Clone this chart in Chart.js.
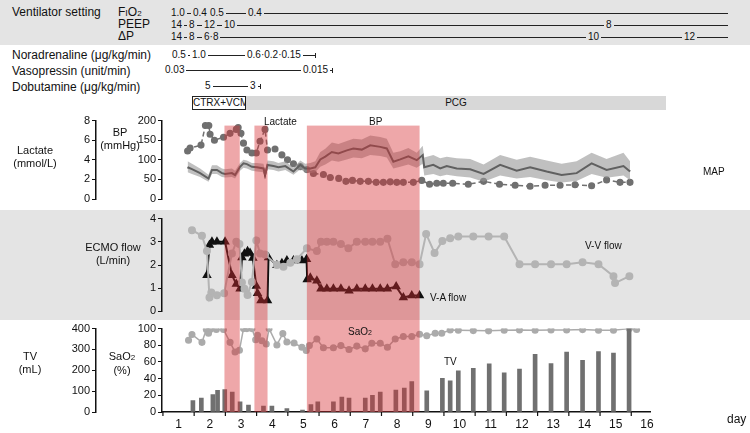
<!DOCTYPE html>
<html>
<head>
<meta charset="utf-8">
<script src="https://cdn.jsdelivr.net/npm/chart.js@4/dist/chart.umd.min.js"></script>
<style>
body { margin:0; width:750px; height:433px; position:relative; background:#fff; font-family:"Liberation Sans", Arial, sans-serif; color:#111; overflow:hidden; }
.a { position:absolute; font-size:10px; white-space:nowrap; line-height:12px; }
.t { position:absolute; font-size:12px; white-space:nowrap; }
.c { position:absolute; font-size:11px; text-align:center; line-height:13px; }
.ln { position:absolute; height:1px; background:#222; }
.tk { position:absolute; width:1px; height:5px; background:#222; }
canvas { position:absolute; left:0; }
</style>
</head>
<body>
<div style="position:absolute;left:0;top:0;width:750px;height:45px;background:#e4e4e4"></div>
<div class="t" style="left:12px;top:5px">Ventilator setting</div>
<div class="t" style="left:118px;top:5px">F<span style="font-size:9px">I</span>O<span style="font-size:8px">2</span></div>
<div class="t" style="left:118px;top:17px">PEEP</div>
<div class="t" style="left:118px;top:29px">ΔP</div>
<div class="t" style="left:12px;top:48px">Noradrenaline (μg/kg/min)</div>
<div class="t" style="left:12px;top:64px">Vasopressin (unit/min)</div>
<div class="t" style="left:12px;top:80px">Dobutamine (μg/kg/min)</div>
<div id="rows"></div>
<div style="position:absolute;left:192px;top:96px;width:52px;height:12px;border:1px solid #222;font-size:10px;text-align:center;line-height:12px">CTRX+VCM</div>
<div style="position:absolute;left:246px;top:96px;width:420px;height:14px;background:#d8d8d8;font-size:10px;text-align:center;line-height:14px">PCG</div>

<canvas id="bp" width="750" height="98" style="top:112px"></canvas>
<canvas id="ecmo" width="750" height="110" style="top:210px;background:#e4e4e4"></canvas>
<canvas id="tv" width="750" height="113" style="top:320px"></canvas>

<div class="c" style="left:5px;top:144px;width:60px">Lactate<br>(mmol/L)</div>
<div class="c" style="left:100px;top:126px;width:40px">BP<br>(mmHg)</div>
<div class="c" style="left:78px;top:241px;width:70px">ECMO flow<br>(L/min)</div>
<div class="c" style="left:10px;top:350px;width:40px">TV<br>(mL)</div>
<div class="c" style="left:102px;top:350px;width:40px">SaO<span style="font-size:8px">2</span><br>(%)</div>
<div class="a" style="left:264px;top:116px">Lactate</div>
<div class="a" style="left:369px;top:116px">BP</div>
<div class="a" style="left:703px;top:166px">MAP</div>
<div class="a" style="left:585px;top:240px">V-V flow</div>
<div class="a" style="left:430px;top:292px">V-A flow</div>
<div class="a" style="left:348px;top:326px">SaO<span style="font-size:7px">2</span></div>
<div class="a" style="left:444px;top:356px">TV</div>
<div class="t" style="left:727px;top:412px">day</div>

<script>
const bands = [[2.47, 2.96], [3.43, 3.85], [5.11, 8.72]];

const lactateDays = [1.29,1.37,1.72,1.86,1.97,2.01,2.15,2.44,2.65,2.85,2.91,3.00,3.08,3.19,3.35,3.49,3.61,3.77,3.85,4.09,4.31,4.49,4.68,4.90,5.11,5.32,5.64,5.86,6.13,6.36,6.57,6.82,7.08,7.33,7.56,7.78,7.99,8.20,8.52,8.79,9.04,9.27,9.48,9.78,10.28,10.77,11.28,11.78,12.26,12.74,13.22,13.70,14.23,14.71,15.14,15.46];
const lactate = [4.9,5.2,5.5,7.5,7.5,6.6,6.0,6.3,6.7,7.1,7.3,6.7,5.7,5.0,4.7,4.7,5.9,7.1,5.0,5.1,4.5,4.0,3.6,3.3,3.0,2.6,2.5,2.2,2.1,1.8,1.9,1.8,1.8,1.7,1.7,1.75,1.7,1.7,1.7,1.9,1.5,1.6,1.6,1.6,1.5,1.8,1.5,1.4,1.3,1.4,1.4,1.45,1.35,1.95,1.7,1.7];

const mapDays = [1.29,1.43,1.69,1.96,2.07,2.23,2.39,2.49,2.71,2.81,2.97,3.08,3.19,3.35,3.51,3.72,3.77,3.85,4.04,4.20,4.42,4.68,4.90,5.06,5.22,5.38,5.54,5.70,5.91,6.12,6.39,6.60,6.87,7.14,7.46,7.67,7.88,8.10,8.36,8.63,8.82,8.87,9.16,9.38,9.59,9.91,10.34,10.77,11.30,11.83,12.26,12.79,13.27,13.75,14.23,14.71,15.25,15.46];
const map = [81,76,66,52,74,74,66,64,66,61,82,91,89,82,81,78,61,87,84,81,84,70,87,78,78,81,101,108,120,116,124,129,126,137,133,129,95,101,109,99,112,81,87,78,84,78,76,64,87,72,81,70,61,66,91,74,84,70];
const mapLow = [68,64,56,44,64,64,56,55,56,52,72,80,78,72,70,68,52,76,74,70,74,62,76,68,66,68,82,88,98,95,101,106,104,112,110,106,78,82,88,80,90,60,64,58,62,58,55,44,60,52,56,48,42,46,64,54,60,48];
const mapHigh = [96,90,78,62,86,86,78,76,78,72,92,100,98,92,92,90,72,98,96,92,96,80,98,90,92,96,120,128,144,140,148,154,152,162,158,154,118,122,130,118,136,106,112,104,108,104,102,88,112,100,108,98,90,96,118,102,118,96];

const vvDays = [1.43,1.75,1.91,1.99,2.05,2.23,2.46,2.71,2.85,2.95,3.03,3.11,3.21,3.35,3.49,3.61,3.77,4.15,4.36,4.58,4.79,5.11,5.43,5.56,5.75,5.96,6.20,6.44,6.71,6.98,7.21,7.46,7.69,7.94,8.20,8.47,8.72,8.93,9.20,9.45,9.70,9.96,10.44,10.93,11.43,11.92,12.42,12.93,13.43,13.94,14.45,14.93,14.98,15.44];
const vvFlow = [3.5,3.26,2.6,0.6,0.82,0.7,0.78,2.5,3.0,2.9,1.25,0.98,0.71,1.27,3.06,2.5,2.45,2.0,1.92,2.1,2.25,2.72,2.6,3.0,3.0,3.0,2.9,2.72,3.0,3.0,3.0,3.0,3.13,2.03,2.12,2.12,2.03,3.34,2.52,3.03,3.15,3.23,3.23,3.23,3.23,2.03,2.03,2.03,2.03,2.12,2.03,1.52,1.22,1.52];

const vaDays = [1.91,1.99,2.07,2.23,2.49,2.71,2.85,2.97,3.03,3.11,3.21,3.29,3.38,3.49,3.53,3.64,3.85,3.88,4.15,4.31,4.47,4.68,4.95,5.10,5.12,5.22,5.43,5.56,5.75,5.96,6.20,6.46,6.71,6.98,7.21,7.46,7.69,7.97,8.20,8.47,8.72];
const vaFlow = [1.56,2.86,3.0,3.0,3.0,1.56,1.18,0.98,2.32,2.48,2.59,2.52,2.3,1.09,0.78,0.47,0.47,2.32,1.99,2.08,2.19,2.19,2.19,2.25,1.38,1.45,1.32,0.98,0.98,0.98,0.98,0.89,0.98,0.98,0.98,0.98,0.98,1.07,0.6,0.68,0.68];

const saDays = [1.32,1.43,1.75,1.89,1.96,2.01,2.21,2.44,2.65,2.81,2.95,3.08,3.19,3.35,3.47,3.53,3.67,3.81,3.90,4.15,4.34,4.47,4.70,4.95,5.09,5.19,5.43,5.64,5.96,6.20,6.46,6.71,6.98,7.19,7.46,7.69,7.94,8.20,8.47,8.72,8.95,9.22,9.43,9.70,9.96,10.44,10.93,11.43,11.92,12.42,12.93,13.43,13.94,14.45,14.93,15.44,15.67];
const sao2 = [86,93,83.5,99,94.5,99,99,99,83.5,72,74,100,100,100,86.7,92,85.5,81.6,100,80.4,94,84,82.7,77.6,73.7,79.6,87.5,77,77,79.6,75,79,75.7,82.4,82.4,77.6,87.5,90.6,90.6,93.3,91.4,94.5,94.5,98.4,98,97.6,97.3,98,98.4,98,98.4,98.4,98.8,98,98,100,99];

const tvDays = [1.46,1.73,2.10,2.25,2.48,2.72,2.97,3.24,3.72,3.99,4.47,4.97,5.24,5.46,5.96,6.23,6.46,6.98,7.21,7.46,7.96,8.23,8.47,8.95,9.45,9.70,9.96,10.44,10.95,11.43,11.92,12.42,12.93,13.43,13.94,14.45,14.93,15.43];
const tv = [55,67,83,104,107,96,49,33,28,28,17,9,36,49,49,72,67,67,80,96,105,115,146,102,162,149,198,209,231,188,206,276,232,287,248,290,282,400];

const dayLabels = [1,2,3,4,5,6,7,8,9,10,11,12,13,14,15,16];

// treatment rows: [left px, label], line ends at `end` (null = short end tick)
const settingRows = [
  { y: 13, items: [[171, '1.0'], [193, '0.4'], [210, '0.5'], [248, '0.4']], end: 728 },
  { y: 25, items: [[171, '14'], [189, '8'], [204, '12'], [224, '10'], [606, '8']], end: 728 },
  { y: 37, items: [[171, '14'], [189, '8'], [204, '6·8'], [588, '10'], [684, '12']], end: 728 },
  { y: 55, items: [[172, '0.5'], [192, '1.0'], [247, '0.6·0.2·0.15']], end: 315, tick: true },
  { y: 70, items: [[165, '0.03'], [303, '0.015']], end: null, tick: true },
  { y: 86, items: [[205, '5'], [250, '3']], end: null, tick: true }
];

const rowsEl = document.getElementById('rows');
function addEl(cls, css, text) {
  const d = document.createElement('div');
  d.className = cls;
  Object.assign(d.style, css);
  if (text) d.textContent = text;
  rowsEl.appendChild(d);
  return d;
}
settingRows.forEach(r => {
  let prevEnd = null;
  r.items.forEach(([x, label]) => {
    const d = addEl('a', { left: x + 'px', top: (r.y - 6) + 'px' }, label);
    if (prevEnd !== null) addEl('ln', { left: (prevEnd + 2) + 'px', top: r.y + 'px', width: (x - prevEnd - 4) + 'px' });
    prevEnd = x + d.offsetWidth;
  });
  const endX = r.end === null ? prevEnd + 4 : r.end;
  addEl('ln', { left: (prevEnd + 2) + 'px', top: r.y + 'px', width: (endX - prevEnd - 2) + 'px' });
  if (r.tick) addEl('tk', { left: endX + 'px', top: (r.y - 2) + 'px' });
});

const pts = (xs, ys) => xs.map((x, i) => ({ x: x, y: ys[i] }));
const font = { family: 'Liberation Sans', size: 11 };
Chart.defaults.color = '#111';
Chart.defaults.font.family = 'Liberation Sans';

const bandPlugin = {
  id: 'bands',
  afterDatasetsDraw(chart, args, opts) {
    const c = chart.ctx, xs = chart.scales.x, a = chart.chartArea;
    const top = opts.top === 'area' ? a.top + 5 : 0;
    const bottom = opts.bottom === 'area' ? a.bottom : chart.height;
    c.save();
    c.fillStyle = 'rgba(215,45,50,0.42)';
    bands.forEach(b => {
      const x1 = xs.getPixelForValue(b[0]), x2 = xs.getPixelForValue(b[1]);
      c.fillRect(x1, top, x2 - x1, bottom - top);
    });
    // half-day tick marks under the day axis
    if (xs.options.display) {
      c.strokeStyle = '#111';
      c.lineWidth = 1.2;
      dayLabels.forEach(d => {
        const x = xs.getPixelForValue(d - 0.5);
        c.beginPath(); c.moveTo(x, a.bottom); c.lineTo(x, a.bottom + 4); c.stroke();
      });
    }
    c.restore();
  }
};

function xScale(show) {
  return {
    type: 'linear', min: 0.47, max: 16.1, display: show, offset: false,
    afterBuildTicks: s => { s.ticks = dayLabels.map(v => ({ value: v })); },
    afterFit: s => { s.height = show ? 21 : 0; },
    ticks: { font: { size: 12 }, autoSkip: false, maxRotation: 0, padding: 5 },
    grid: { drawOnChartArea: false, drawTicks: false, offset: false },
    border: { color: '#111', width: 1.5 }
  };
}
function yScale(min, max, step, width) {
  return {
    position: 'left', min: min, max: max,
    afterFit: s => { s.width = width; },
    ticks: { stepSize: step, font: font, padding: 2 },
    grid: { drawOnChartArea: false, tickLength: 4, tickColor: '#111' },
    border: { color: '#111', width: 1.5 }
  };
}
const base = (padTop, padBottom) => ({
  responsive: false, animation: false,
  layout: { padding: { top: padTop, bottom: padBottom, right: 100, left: 0 } },
  plugins: { legend: { display: false }, tooltip: { enabled: false } }
});

const bpOpts = base(8, 11);
bpOpts.scales = { y: yScale(0, 200, 50, 66), yl: yScale(0, 8, 2, 96), x: xScale(false) };
bpOpts.plugins.bands = { top: 'area', bottom: 'canvas' };
new Chart(document.getElementById('bp'), {
  type: 'line',
  data: { datasets: [
    { data: pts(mapDays, mapHigh), yAxisID: 'y', borderWidth: 0, pointRadius: 0, fill: '+1', backgroundColor: 'rgba(150,150,150,0.6)' },
    { data: pts(mapDays, mapLow), yAxisID: 'y', borderWidth: 0, pointRadius: 0, fill: false },
    { data: pts(mapDays, map), yAxisID: 'y', borderColor: '#111', borderWidth: 2, pointRadius: 0 },
    { data: pts(lactateDays, lactate), yAxisID: 'yl', borderColor: '#707070', backgroundColor: '#707070', borderWidth: 1.5, borderDash: [5, 3], pointRadius: 2.8 }
  ] },
  options: bpOpts,
  plugins: [bandPlugin]
});

const ecOpts = base(5, 6);
ecOpts.scales = { y: yScale(0, 4, 1, 162), x: xScale(false) };
ecOpts.plugins.bands = { top: 'canvas', bottom: 'canvas' };
new Chart(document.getElementById('ecmo'), {
  type: 'line',
  data: { datasets: [
    { data: pts(vvDays, vvFlow), borderColor: '#b4b4b4', backgroundColor: '#b4b4b4', borderWidth: 2, pointRadius: 3 },
    { data: pts(vaDays, vaFlow), borderColor: '#111', backgroundColor: '#111', borderWidth: 2, pointStyle: 'triangle', pointRadius: 3.5 }
  ] },
  options: ecOpts,
  plugins: [bandPlugin]
});

const tvOpts = base(7, 0);
tvOpts.scales = { y: yScale(0, 100, 20, 66), ytv: yScale(0, 400, 100, 96), x: xScale(true) };
tvOpts.plugins.bands = { top: 'canvas', bottom: 'area' };
new Chart(document.getElementById('tv'), {
  data: { datasets: [
    { type: 'bar', data: pts(tvDays, tv), yAxisID: 'ytv', backgroundColor: '#707070', barThickness: 4 },
    { type: 'line', data: pts(saDays, sao2), yAxisID: 'y', borderColor: '#ababab', backgroundColor: '#ababab', borderWidth: 1.5, pointRadius: 2.8 }
  ] },
  options: tvOpts,
  plugins: [bandPlugin]
});
</script>
</body>
</html>
